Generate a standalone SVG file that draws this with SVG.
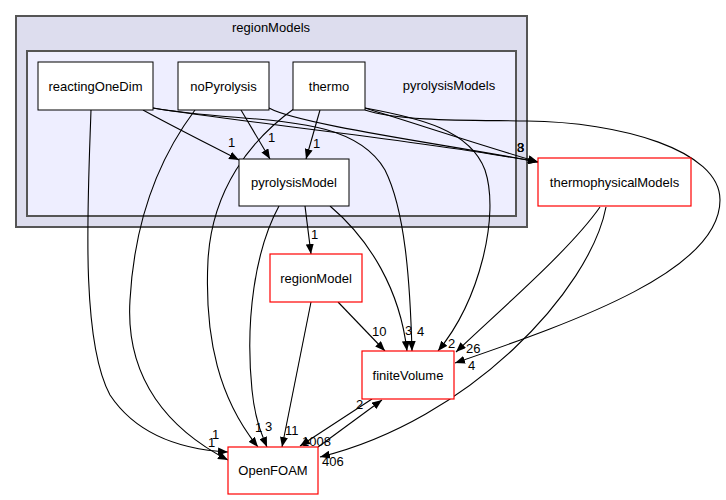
<svg xmlns="http://www.w3.org/2000/svg" width="726" height="500" viewBox="0 0 726 500">
<style>
text{font-family:"Liberation Sans",Arial,Helvetica,sans-serif;font-size:13px;fill:#000}
.n{text-anchor:middle}
.box{fill:#fff;stroke:#000;stroke-width:1}
.rbox{fill:#fff;stroke:#f00;stroke-width:1.2}
.e{fill:none;stroke:#000;stroke-width:1.1;marker-end:url(#ah)}
</style>
<defs>
<marker id="ah" viewBox="0 0 10 8" refX="10" refY="4" markerWidth="10" markerHeight="8" orient="auto" markerUnits="userSpaceOnUse"><path d="M0,0 L10,4 L0,8 z" fill="#000"/></marker>
</defs>
<rect width="726" height="500" fill="#fff"/>
<g id="cluster_regionModels">
<rect x="16" y="16" width="511" height="211" fill="#ddddee" stroke="#555" stroke-width="2"/>
<text class="n" x="271" y="32">regionModels</text>
</g>
<g id="cluster_pyrolysisModels">
<rect x="27" y="51" width="489" height="165" fill="#eeeeff" stroke="#555" stroke-width="2"/>
<text class="n" x="449" y="90">pyrolysisModels</text>
</g>
<g id="edges">
<path class="e" d="M143,110 C170,125 212,146 239,160"/>
<text x="228" y="147">1</text>
<path class="e" d="M241,110 L270,159"/>
<text x="268" y="142">1</text>
<path class="e" d="M320,110 L306,159"/>
<text x="313" y="148">1</text>
<path class="e" d="M153,108 C260,125 420,140 538,162"/>
<path class="e" d="M269,108 C300,125 450,145 538,162"/>
<path class="e" d="M365,108 C420,125 480,145 538,162"/>
<text x="517" y="152">3</text>
<text x="517" y="152">8</text>
<text x="517" y="152">3</text>
<path class="e" d="M365,110 C400,122 480,120 527,121 C620,122 720,150 720,200 C720,270 580,320 455,363"/>
<text x="468" y="370">4</text>
<path class="e" d="M365,108 C420,118 470,130 485,170 C500,215 480,300 438,351"/>
<text x="448" y="348">2</text>
<path class="e" d="M600,207 C570,250 500,310 456,352"/>
<text x="466" y="353">26</text>
<path class="e" d="M606,207 C590,290 470,420 320,457"/>
<text x="322" y="466">406</text>
<path class="e" d="M338,302 L385,351"/>
<text x="372" y="336">10</text>
<path class="e" d="M305,206 L311,254"/>
<text x="311" y="239">1</text>
<path class="e" d="M330,206 C370,240 400,290 407,351"/>
<text x="405" y="335">3</text>
<path class="e" d="M153,108 C250,125 350,110 385,170 C405,210 410,280 412,351"/>
<text x="417" y="336">4</text>
<path class="e" d="M91,110 C88,200 80,340 110,395 C140,440 190,450 228,452"/>
<text x="212" y="439">1</text>
<path class="e" d="M195,110 C165,150 135,210 130,300 C125,380 170,430 228,460"/>
<text x="208" y="447">1</text>
<path class="e" d="M295,108 C250,140 212,190 208,260 C204,340 220,400 258,447"/>
<text x="255" y="432">1</text>
<path class="e" d="M279,206 C255,250 245,320 252,390 C255,420 262,435 267,447"/>
<text x="265" y="431">3</text>
<path class="e" d="M311,302 L282,447"/>
<text x="285" y="435">11</text>
<path class="e" d="M318,447 L382,400"/>
<text x="356" y="409">2</text>
<path class="e" d="M372,399 L300,446"/>
<text x="302" y="446">1008</text>
</g>
<g id="node_reactingOneDim">
<rect class="box" x="38" y="62" width="115" height="48"/>
<text class="n" x="95.5" y="90.5">reactingOneDim</text>
</g>
<g id="node_noPyrolysis">
<rect class="box" x="178" y="62" width="91" height="48"/>
<text class="n" x="223.5" y="90.5">noPyrolysis</text>
</g>
<g id="node_thermo">
<rect class="box" x="293" y="62" width="72" height="48"/>
<text class="n" x="329" y="90.5">thermo</text>
</g>
<g id="node_pyrolysisModel">
<rect class="box" x="239" y="159" width="110" height="47"/>
<text class="n" x="294" y="187">pyrolysisModel</text>
</g>
<g id="node_thermophysicalModels">
<rect class="rbox" x="538" y="158" width="153" height="48"/>
<text class="n" x="614.5" y="186.5">thermophysicalModels</text>
</g>
<g id="node_regionModel">
<rect class="rbox" x="270" y="254" width="92" height="48"/>
<text class="n" x="316" y="282.5">regionModel</text>
</g>
<g id="node_finiteVolume">
<rect class="rbox" x="362" y="351" width="92" height="48"/>
<text class="n" x="408" y="379.5">finiteVolume</text>
</g>
<g id="node_OpenFOAM">
<rect class="rbox" x="228" y="447" width="90" height="47"/>
<text class="n" x="273" y="475">OpenFOAM</text>
</g>
</svg>
